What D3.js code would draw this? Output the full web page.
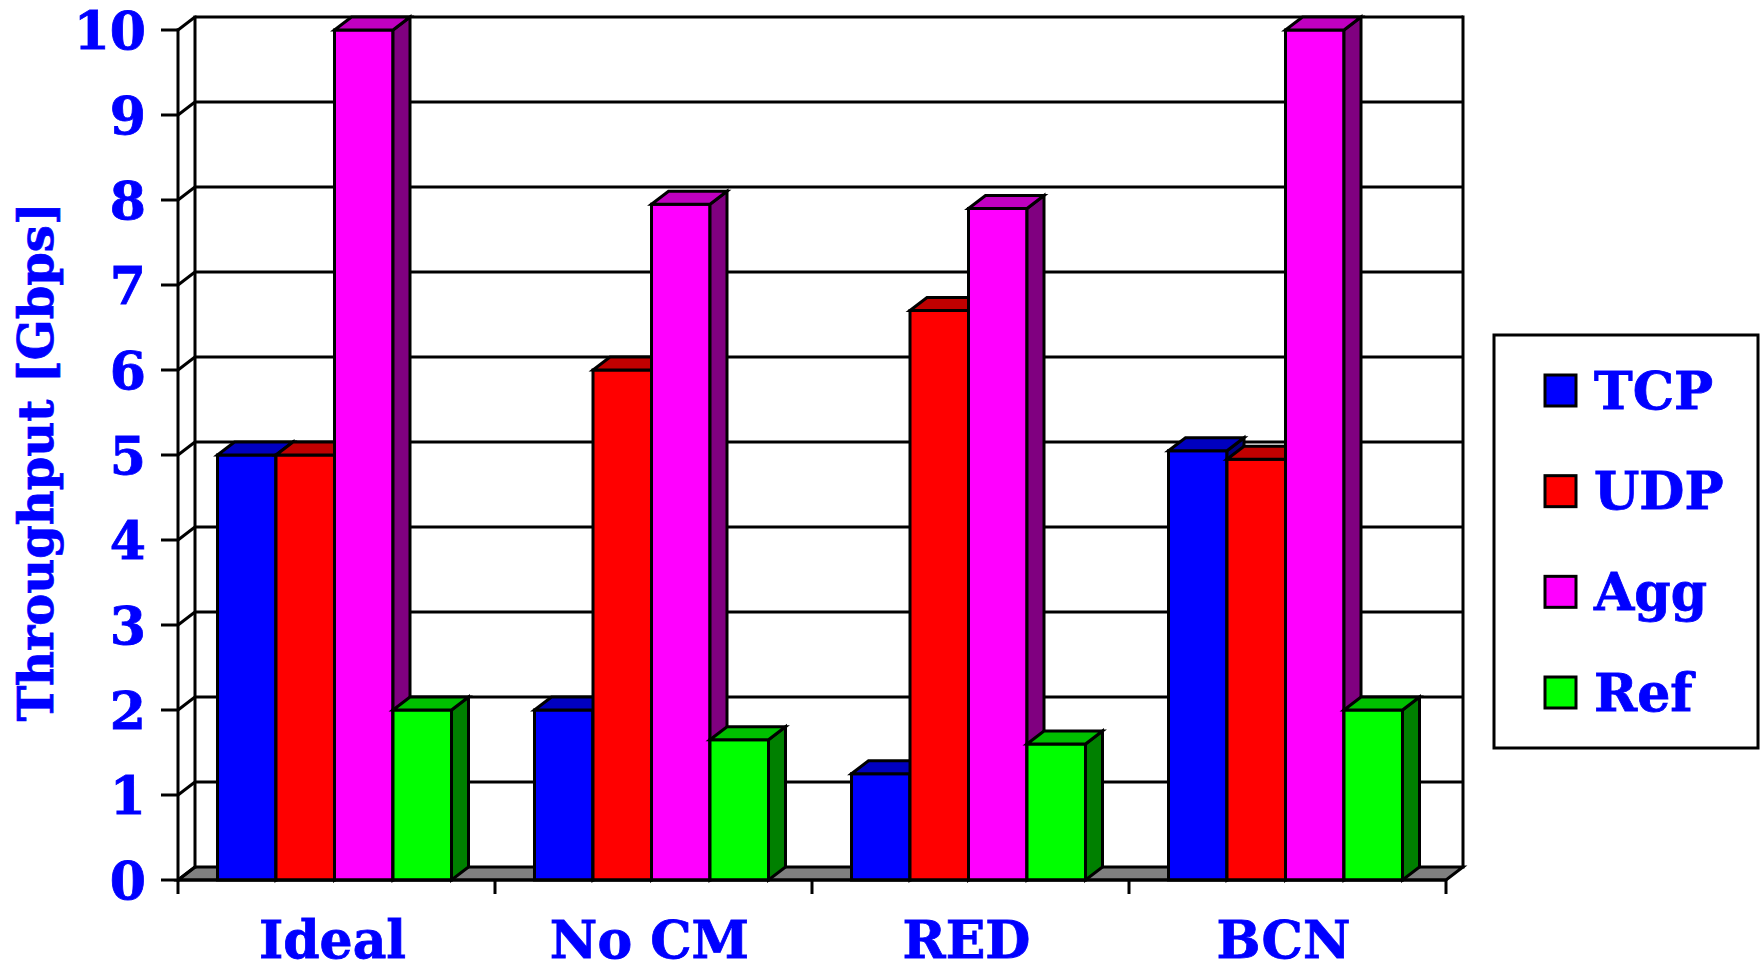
<!DOCTYPE html>
<html>
<head>
<meta charset="utf-8">
<script src="https://cdn.jsdelivr.net/npm/d3@7"></script>
<style>
  html, body { margin: 0; padding: 0; background: #ffffff; }
  svg { display: block; }
  text { font-family: "DejaVu Serif", serif; font-weight: bold; fill: #0000ff; stroke: #0000ff; stroke-width: 0.8px; }
</style>
</head>
<body>
<svg id="chart" width="1764" height="971"></svg>
<script>
// Throughput per scheme, in Gbps
const categories = ["Ideal", "No CM", "RED", "BCN"];
const seriesNames = ["TCP", "UDP", "Agg", "Ref"];
const tcpValues = [5.0, 2.0, 1.25, 5.05];
const udpValues = [5.0, 6.0, 6.7, 4.95];
const aggValues = [10.0, 7.95, 7.9, 10.0];
const refValues = [2.0, 1.65, 1.6, 2.0];
const yTickValues = [0, 1, 2, 3, 4, 5, 6, 7, 8, 9, 10];

const seriesValues = [tcpValues, udpValues, aggValues, refValues];
const frontColors = ["#0000ff", "#ff0000", "#ff00ff", "#00ff00"];
const topColors   = ["#0000c0", "#c00000", "#c000c0", "#00c000"];
const sideColors  = ["#000080", "#800000", "#800080", "#008000"];

const svg = d3.select("#chart");

// plot frame (front plane) and the oblique depth offset
const plotLeft = 178, plotRight = 1446, plotBottom = 880, plotTop = 30;
const DX = 17, DY = 13;
const LW = 3;

const y = d3.scaleLinear().domain([0, 10]).range([plotBottom, plotTop]);
const x = d3.scaleBand().domain(categories).range([plotLeft, plotRight]);
const groupWidth = 234;
const inner = d3.scaleBand().domain(seriesNames).range([0, groupWidth]);

const g = svg.append("g");

// floor
g.append("path")
  .attr("d", `M${plotLeft},${plotBottom} L${plotRight},${plotBottom} L${plotRight + DX},${plotBottom - DY} L${plotLeft + DX},${plotBottom - DY} Z`)
  .attr("fill", "#808080").attr("stroke", "#000").attr("stroke-width", LW).attr("stroke-linejoin", "miter");

// back wall gridlines
g.selectAll("line.grid").data(yTickValues.slice(1)).join("line")
  .attr("class", "grid")
  .attr("x1", plotLeft + DX).attr("x2", plotRight + DX)
  .attr("y1", d => y(d) - DY).attr("y2", d => y(d) - DY)
  .attr("stroke", "#000").attr("stroke-width", LW);

// side wall gridlines
g.selectAll("line.sgrid").data(yTickValues).join("line")
  .attr("class", "sgrid")
  .attr("x1", plotLeft).attr("x2", plotLeft + DX)
  .attr("y1", d => y(d)).attr("y2", d => y(d) - DY)
  .attr("stroke", "#000").attr("stroke-width", LW);

// wall edges
const edges = [
  [plotLeft, y(10), plotLeft, plotBottom],
  [plotLeft + DX, y(10) - DY, plotLeft + DX, plotBottom - DY],
  [plotRight + DX, y(10) - DY, plotRight + DX, plotBottom - DY]
];
g.selectAll("line.edge").data(edges).join("line")
  .attr("class", "edge")
  .attr("x1", d => d[0]).attr("y1", d => d[1]).attr("x2", d => d[2]).attr("y2", d => d[3])
  .attr("stroke", "#000").attr("stroke-width", LW).attr("stroke-linecap", "square");

// bars: front face, side face, top face, drawn left to right
const bars = [];
categories.forEach((c, ci) => {
  const gx = x(c) + x.bandwidth() / 2 - groupWidth / 2 - 2;
  seriesNames.forEach((s, si) => {
    bars.push({ x0: gx + inner(s), x1: gx + inner(s) + inner.bandwidth(), v: seriesValues[si][ci], si });
  });
});

const barG = g.selectAll("g.bar").data(bars).join("g").attr("class", "bar");
barG.append("path")
  .attr("d", d => `M${d.x0},${y(0)} L${d.x0},${y(d.v)} L${d.x1},${y(d.v)} L${d.x1},${y(0)} Z`)
  .attr("fill", d => frontColors[d.si]);
barG.append("path")
  .attr("d", d => `M${d.x1},${y(0)} L${d.x1},${y(d.v)} L${d.x1 + DX},${y(d.v) - DY} L${d.x1 + DX},${y(0) - DY} Z`)
  .attr("fill", d => sideColors[d.si]);
barG.append("path")
  .attr("d", d => `M${d.x0},${y(d.v)} L${d.x0 + DX},${y(d.v) - DY} L${d.x1 + DX},${y(d.v) - DY} L${d.x1},${y(d.v)} Z`)
  .attr("fill", d => topColors[d.si]);
barG.selectAll("path")
  .attr("stroke", "#000").attr("stroke-width", LW).attr("stroke-linejoin", "miter");

// front axis line along the bottom
g.append("line")
  .attr("x1", plotLeft).attr("x2", plotRight).attr("y1", plotBottom).attr("y2", plotBottom)
  .attr("stroke", "#000").attr("stroke-width", LW);

// y axis ticks and labels
g.selectAll("line.ytick").data(yTickValues).join("line")
  .attr("class", "ytick")
  .attr("x1", plotLeft - 17).attr("x2", plotLeft)
  .attr("y1", d => y(d)).attr("y2", d => y(d))
  .attr("stroke", "#000").attr("stroke-width", LW);
g.selectAll("text.ylab").data(yTickValues).join("text")
  .attr("class", "ylab")
  .attr("x", 146).attr("y", d => y(d))
  .attr("dy", "0.36em")
  .attr("text-anchor", "end")
  .attr("font-size", 52)
  .text(d => d);

// x axis ticks at category boundaries and labels
const xBoundaries = categories.map(c => x(c)).concat([plotRight]);
g.selectAll("line.xtick").data(xBoundaries).join("line")
  .attr("class", "xtick")
  .attr("x1", d => d).attr("x2", d => d)
  .attr("y1", plotBottom).attr("y2", plotBottom + 14)
  .attr("stroke", "#000").attr("stroke-width", LW);
g.selectAll("text.xlab").data(categories).join("text")
  .attr("class", "xlab")
  .attr("x", d => x(d) + x.bandwidth() / 2 - 4)
  .attr("y", 958)
  .attr("text-anchor", "middle")
  .attr("font-size", 52)
  .text(d => d);

// y axis title
svg.append("text")
  .attr("transform", "translate(53,462) rotate(-90)")
  .attr("text-anchor", "middle")
  .attr("font-size", 48)
  .text("Throughput [Gbps]");

// legend
const legend = svg.append("g");
legend.append("rect")
  .attr("x", 1494).attr("y", 335).attr("width", 264).attr("height", 413)
  .attr("fill", "#fff").attr("stroke", "#000").attr("stroke-width", LW);
const legendY = d3.scalePoint().domain(seriesNames).range([390, 692]);
const items = legend.selectAll("g.item").data(seriesNames).join("g").attr("class", "item")
  .attr("transform", d => `translate(0,${legendY(d)})`);
items.append("rect")
  .attr("x", 1545).attr("y", -15).attr("width", 31).attr("height", 31)
  .attr("fill", (d, i) => frontColors[i]).attr("stroke", "#000").attr("stroke-width", LW);
items.append("text")
  .attr("x", 1594).attr("y", 0).attr("dy", "0.36em")
  .attr("font-size", 52)
  .text(d => d);
</script>
</body>
</html>
